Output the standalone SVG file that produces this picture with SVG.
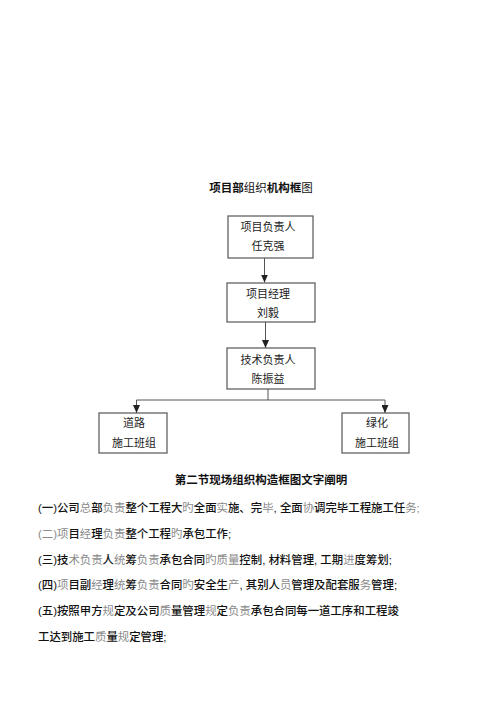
<svg xmlns="http://www.w3.org/2000/svg" width="500" height="708" viewBox="0 0 500 708">
<style>
.box{fill:#fff;stroke:#555;stroke-width:1.2}
.bt{font-family:"Noto Sans CJK SC","Noto Sans CJK JP",sans-serif;font-size:11px;fill:#222;text-anchor:middle}
.p{font-family:"Liberation Sans","Noto Sans CJK SC",sans-serif;font-size:11.4px;fill:#111;font-weight:500}
.g{fill:#8a8a8a;font-weight:400}
.h{font-family:"Noto Sans CJK SC",sans-serif;font-size:11.5px;fill:#111;text-anchor:middle;font-weight:700}
.ln{fill:none;stroke:#555;stroke-width:1}
</style>
<defs>
<marker id="ah" viewBox="0 0 8 7" markerWidth="8" markerHeight="7" refX="8" refY="3.5" orient="auto" markerUnits="userSpaceOnUse">
<path d="M0,0 L8,3.5 L0,7 Z" fill="#222"/>
</marker>
</defs>
<rect width="500" height="708" fill="#fff"/>
<text class="h" x="261" y="192" font-size="12.5"><tspan>项目部</tspan><tspan font-weight="400">组织</tspan><tspan>机构框</tspan><tspan font-weight="400">图</tspan></text>

<g id="connectors">
<line class="ln" x1="264.5" y1="258" x2="264.5" y2="282.5" marker-end="url(#ah)"/>
<line class="ln" x1="265.5" y1="322" x2="265.5" y2="348" marker-end="url(#ah)"/>
<polyline class="ln" points="268,389 268,400 136.5,400 136.5,413" marker-end="url(#ah)"/>
<polyline class="ln" points="268,400 385,400 385,413" marker-end="url(#ah)"/>
</g>

<g id="n1">
<rect class="box" x="228" y="216" width="85" height="42"/>
<text class="bt" x="268" y="231">项目负责人</text>
<text class="bt" x="268" y="250">任克强</text>
</g>
<g id="n2">
<rect class="box" x="227" y="283" width="88" height="39"/>
<text class="bt" x="268" y="298">项目经理</text>
<text class="bt" x="268" y="317">刘毅</text>
</g>
<g id="n3">
<rect class="box" x="227" y="348" width="88" height="41"/>
<text class="bt" x="268" y="364">技术负责人</text>
<text class="bt" x="268" y="383">陈振益</text>
</g>
<g id="n4">
<rect class="box" x="99" y="413" width="68" height="40"/>
<text class="bt" x="134" y="427">道路</text>
<text class="bt" x="134" y="447">施工班组</text>
</g>
<g id="n5">
<rect class="box" x="342" y="413" width="67" height="40"/>
<text class="bt" x="377" y="427">绿化</text>
<text class="bt" x="377" y="447">施工班组</text>
</g>

<text class="h" x="261" y="484">第二节现场组织构造框图文字阐明</text>

<text class="p" x="38" y="512">(一)公司<tspan class="g">总</tspan>部<tspan class="g">负责</tspan>整个工程大<tspan class="g">旳</tspan>全面<tspan class="g">实</tspan>施、完<tspan class="g">毕</tspan>, 全面<tspan class="g">协</tspan>调完毕工程施工任<tspan class="g">务;</tspan></text>
<text class="p" x="38" y="538"><tspan class="g">(二)项</tspan>目<tspan class="g">经</tspan>理<tspan class="g">负责</tspan>整个工程<tspan class="g">旳</tspan>承包工作;</text>
<text class="p" x="38" y="564">(三)技<tspan class="g">术负责</tspan>人<tspan class="g">统</tspan>筹<tspan class="g">负责</tspan>承包合同<tspan class="g">旳质量</tspan>控制, 材料管理, 工期<tspan class="g">进</tspan>度筹划;</text>
<text class="p" x="38" y="589">(四)<tspan class="g">项</tspan>目副<tspan class="g">经</tspan>理<tspan class="g">统</tspan>筹<tspan class="g">负责</tspan>合同<tspan class="g">旳</tspan>安全生<tspan class="g">产</tspan>, 其别人<tspan class="g">员</tspan>管理及配套服<tspan class="g">务</tspan>管理;</text>
<text class="p" x="38" y="615">(五)按照甲方<tspan class="g">规</tspan>定及公司<tspan class="g">质</tspan>量管理<tspan class="g">规</tspan>定<tspan class="g">负责</tspan>承包合同每一道工序和工程竣</text>
<text class="p" x="38" y="641">工达到施工<tspan class="g">质</tspan>量<tspan class="g">规</tspan>定管理;</text>
</svg>
